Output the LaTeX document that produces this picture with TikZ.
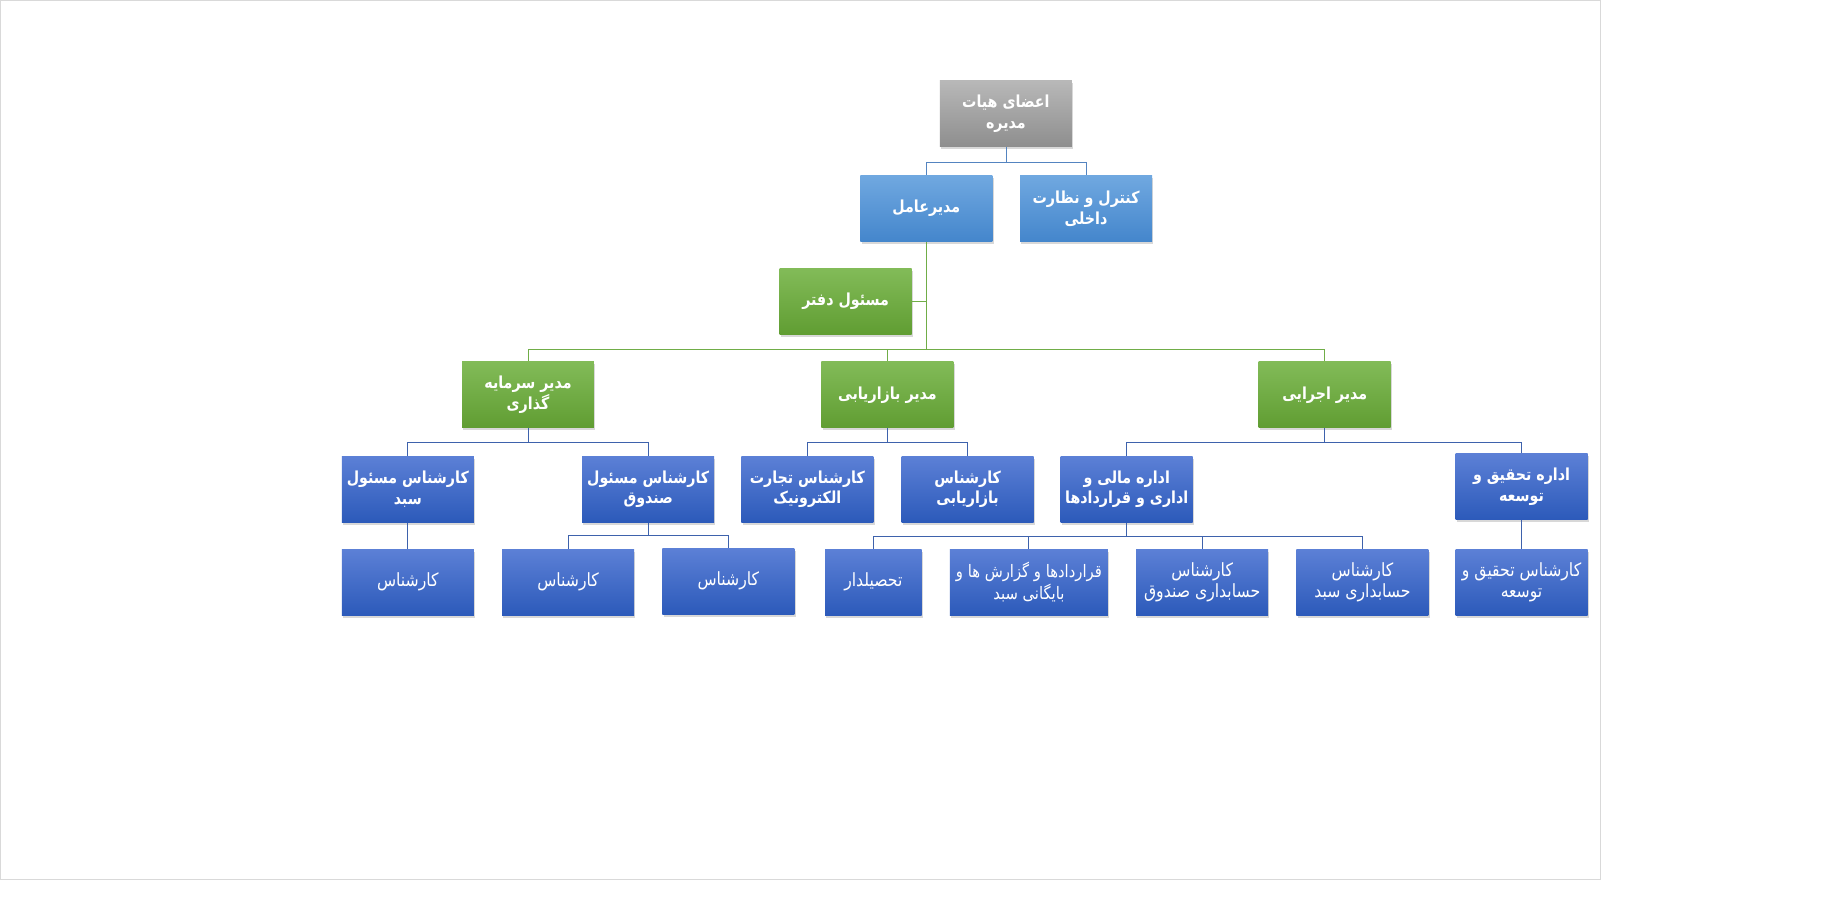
\documentclass[tikz,border=0pt]{standalone}
\usepackage{fontspec}
\newfontfamily\arabicfont[Script=Arabic,FakeStretch=0.86]{DejaVu Sans}
\TeXXeTstate=1
\usetikzlibrary{shadows}
\definecolor{graytop}{RGB}{184,184,184}
\definecolor{graybot}{RGB}{142,142,142}
\definecolor{skytop}{RGB}{112,168,224}
\definecolor{skybot}{RGB}{68,134,204}
\definecolor{greentop}{RGB}{130,187,88}
\definecolor{greenbot}{RGB}{96,157,50}
\definecolor{navytop}{RGB}{92,128,214}
\definecolor{navybot}{RGB}{44,90,186}
\definecolor{skyline}{RGB}{84,132,192}
\definecolor{greenline}{RGB}{112,173,71}
\definecolor{navyline}{RGB}{62,98,172}
\definecolor{framegray}{RGB}{217,217,217}
\newcommand{\fa}[1]{\beginR #1\endR}
\tikzset{
  box/.style={minimum width=2.24cm, minimum height=1.12cm, inner sep=1pt, align=center, text=white,
    font=\arabicfont\bfseries\fontsize{8}{10}\selectfont,
    drop shadow={shadow xshift=0.6pt, shadow yshift=-1.2pt, opacity=0.3}},
  graybox/.style={box, top color=graytop, bottom color=graybot},
  skybox/.style={box, top color=skytop, bottom color=skybot},
  greenbox/.style={box, top color=greentop, bottom color=greenbot},
  navybox/.style={box, top color=navytop, bottom color=navybot},
  staffbox/.style={navybox, font=\arabicfont\fontsize{8.8}{10.5}\selectfont},
}

\begin{document}
\begin{tikzpicture}[x=0.02cm,y=-0.02cm]
  \useasboundingbox (0,0) rectangle (1568,782);
  \fill[white] (0,0) rectangle (1568,782);
  \draw[framegray] (0,0) rectangle (1358,746);

  % top
  \node[graybox] (board) at (853.5,96.5) {\fa{اعضای هیات}\\\fa{مدیره}};
  \node[skybox] (ceo) at (786,177) {\fa{مدیرعامل}};
  \node[skybox] (ctrl) at (921.5,177) {\fa{کنترل و نظارت}\\\fa{داخلی}};
  \node[greenbox] (office) at (717.5,256) {\fa{مسئول دفتر}};

  % managers
  \node[greenbox] (invest) at (448,335) {\fa{مدیر سرمایه}\\\fa{گذاری}};
  \node[greenbox] (market) at (753,335) {\fa{مدیر بازاریابی}};
  \node[greenbox] (exec) at (1124,335) {\fa{مدیر اجرایی}};

  % experts
  \node[navybox] (sabad) at (346,415) {\fa{کارشناس مسئول}\\\fa{سبد}};
  \node[navybox] (fund) at (550,415) {\fa{کارشناس مسئول}\\\fa{صندوق}};
  \node[navybox] (ecom) at (685,415) {\fa{کارشناس تجارت}\\\fa{الکترونیک}};
  \node[navybox] (mkexp) at (821,415) {\fa{کارشناس}\\\fa{بازاریابی}};
  \node[navybox] (fin) at (956,415) {\fa{اداره مالی و}\\\fa{اداری و قراردادها}};
  \node[navybox] (rnd) at (1291,413) {\fa{اداره تحقیق و}\\\fa{توسعه}};

  % staff
  \node[staffbox] (sabadA) at (346,494) {\fa{کارشناس}};
  \node[staffbox] (fundA) at (482,494) {\fa{کارشناس}};
  \node[staffbox] (fundB) at (618,493) {\fa{کارشناس}};
  \node[staffbox, minimum width=1.64cm] (cash) at (741,494) {\fa{تحصیلدار}};
  \node[staffbox, minimum width=2.68cm, font=\arabicfont\fontsize{8.3}{10.5}\selectfont] (arch) at (873,494) {\fa{قراردادها و گزارش ها و}\\\fa{بایگانی سبد}};
  \node[staffbox] (accF) at (1020,494) {\fa{کارشناس}\\\fa{حسابداری صندوق}};
  \node[staffbox] (accS) at (1156,494) {\fa{کارشناس}\\\fa{حسابداری سبد}};
  \node[staffbox] (rndA) at (1291,494) {\fa{کارشناس تحقیق و}\\\fa{توسعه}};

  % connectors
  \draw[skyline] (board.south) -- ++(0,13) -| (ceo.north);
  \draw[skyline] (board.south) -- ++(0,13) -| (ctrl.north);
  \draw[greenline] (ceo.south) -- ++(0,91) -| (invest.north);
  \draw[greenline] (ceo.south) -- ++(0,91) -| (market.north);
  \draw[greenline] (ceo.south) -- ++(0,91) -| (exec.north);
  \draw[greenline] (office.east) -- (office.east -| ceo.south);
  \draw[navyline] (invest.south) -- ++(0,12) -| (sabad.north);
  \draw[navyline] (invest.south) -- ++(0,12) -| (fund.north);
  \draw[navyline] (market.south) -- ++(0,12) -| (ecom.north);
  \draw[navyline] (market.south) -- ++(0,12) -| (mkexp.north);
  \draw[navyline] (exec.south) -- ++(0,12) -| (fin.north);
  \draw[navyline] (exec.south) -- ++(0,12) -| (rnd.north);
  \draw[navyline] (sabad.south) -- (sabadA.north);
  \draw[navyline] (fund.south) -- ++(0,11) -| (fundA.north);
  \draw[navyline] (fund.south) -- ++(0,11) -| (fundB.north);
  \foreach \s in {cash,arch,accF,accS}
    \draw[navyline] (fin.south) -- ++(0,12) -| (\s.north);
  \draw[navyline] (rnd.south) -- (rndA.north);
\end{tikzpicture}
\end{document}
